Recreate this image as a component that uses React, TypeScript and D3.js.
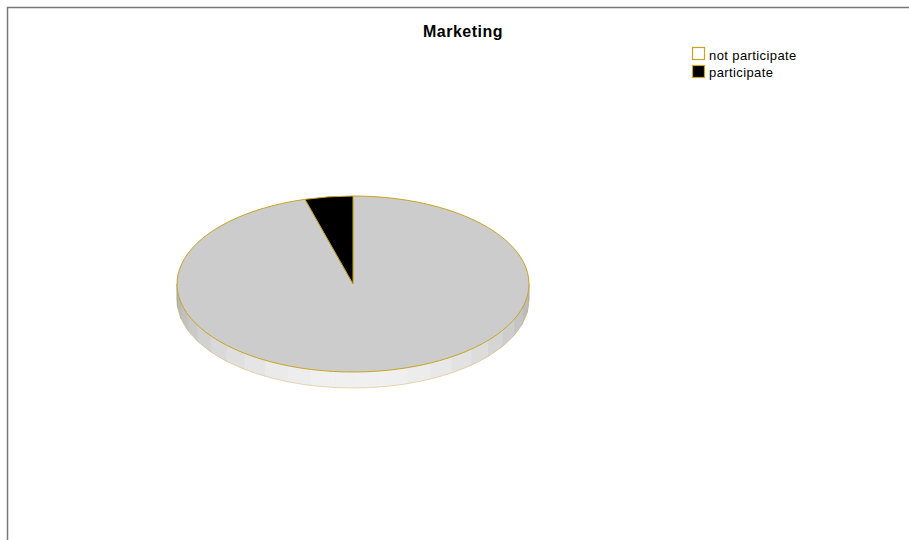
import React from "react";
import * as d3 from "d3";

const categories = ["not participate", "participate"];
const values = [95.6, 4.4];
const colors = ["#cccccc", "#000000"];
const legendFills = ["#ffffff", "#000000"];

const W = 909, H = 540;
const cx = 353, cy = 284, rx = 176, ry = 88, depth = 16;
const edge = "#c8a422";

function pt(a: number, dy = 0): [number, number] {
  return [cx + rx * Math.sin(a), cy - ry * Math.cos(a) + dy];
}

export default function App() {
  const pie = d3.pie<number>().sort(null).startAngle(0).endAngle(2 * Math.PI);
  const arcs = pie(values);

  const facets: React.ReactNode[] = [];
  const step = (Math.PI / 180) * 8;
  for (let a = Math.PI / 2; a < (3 * Math.PI) / 2 - 1e-6; a += step) {
    const a2 = Math.min(a + step, (3 * Math.PI) / 2);
    const mid = (a + a2) / 2;
    let idx = 0;
    arcs.forEach((s, i) => {
      if (mid >= s.startAngle && mid <= s.endAngle) idx = i;
    });
    const t = -Math.cos(mid);
    const base = d3.color(colors[idx])!.rgb();
    const k = 0.85 + 0.33 * t;
    const f = idx === 1 ? d3.rgb(40, 40, 40) : d3.rgb(Math.min(240, base.r * k), Math.min(240, base.g * k), Math.min(240, base.b * k));
    const p1 = pt(a), p2 = pt(a2), p3 = pt(a2, depth), p4 = pt(a, depth);
    facets.push(
      <path key={a} d={`M${p1}L${p2}L${p3}L${p4}Z`} fill={f.toString()} stroke={f.toString()} strokeWidth={0.6} />
    );
  }
  const bl = pt((Math.PI / 2) * 3, depth), br = pt(Math.PI / 2, depth);
  const bottomEdge = `M${br}A${rx},${ry} 0 0 1 ${bl}`;

  const slicePath = (s: d3.PieArcDatum<number>) => {
    const p0 = pt(s.startAngle), p1 = pt(s.endAngle);
    const large = Math.abs(s.endAngle - s.startAngle) > Math.PI ? 1 : 0;
    return `M${cx},${cy}L${p0}A${rx},${ry} 0 ${large} 1 ${p1}Z`;
  };

  const font = "Liberation Sans, Arial, sans-serif";
  return (
    <svg width={W} height={H} style={{ position: "absolute", left: 0, top: 0 }}>
      <rect width={W} height={H} fill="#fff" />
      <path d={`M7.5,${H}V7.5H${W}`} fill="none" stroke="#777" strokeWidth={1.5} />
      <text x={463} y={37} textAnchor="middle" fontFamily={font} fontWeight="bold" fontSize={16} letterSpacing={0.5} fill="#000">Marketing</text>
      {facets}
      <path d={bottomEdge} fill="none" stroke={edge} strokeWidth={0.6} strokeOpacity={0.6} />
      <line x1={pt(Math.PI / 2)[0]} y1={cy} x2={pt(Math.PI / 2)[0]} y2={cy + depth} stroke="#aaa" strokeWidth={0.6} />
      <line x1={pt((3 * Math.PI) / 2)[0]} y1={cy} x2={pt((3 * Math.PI) / 2)[0]} y2={cy + depth} stroke="#aaa" strokeWidth={0.6} />
      {arcs.map((s, i) => (
        <path key={i} d={slicePath(s)} fill={colors[i]} stroke={edge} strokeWidth={1} strokeLinejoin="round" />
      ))}
      {categories.map((c, i) => (
        <g key={c}>
          <rect x={692.5} y={47.5 + i * 18} width={12} height={12} fill={legendFills[i]} stroke={edge} strokeWidth={1.2} />
          <text x={709} y={59.5 + i * 17} fontFamily={font} fontSize={13} letterSpacing={0.4} fill="#000">{c}</text>
        </g>
      ))}
    </svg>
  );
}
